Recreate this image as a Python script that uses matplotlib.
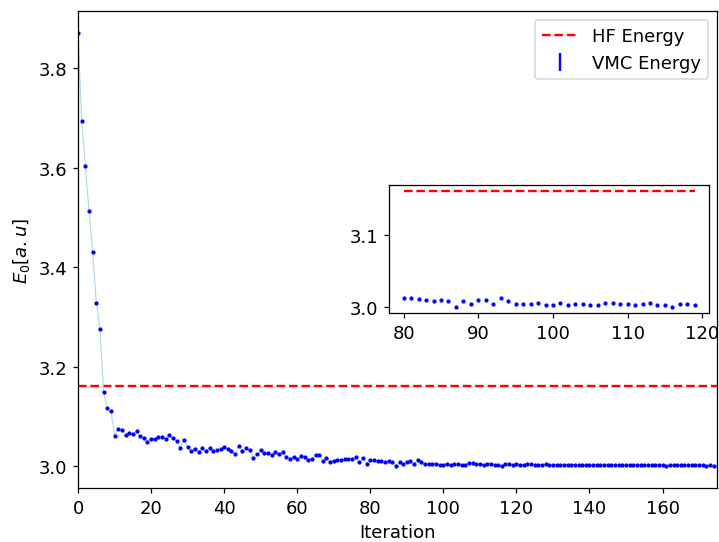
import numpy as np
import matplotlib.pyplot as plt

# VMC energy per iteration
energy = [
    3.871, 3.694, 3.604, 3.513, 3.430, 3.329, 3.275, 3.148, 3.117, 3.111,
    3.061, 3.074, 3.073, 3.062, 3.067, 3.064, 3.070, 3.060, 3.056, 3.049,
    3.055, 3.055, 3.059, 3.059, 3.055, 3.063, 3.056, 3.051, 3.036, 3.053,
    3.038, 3.030, 3.035, 3.028, 3.036, 3.031, 3.036, 3.031, 3.032, 3.034,
    3.038, 3.034, 3.031, 3.025, 3.040, 3.031, 3.036, 3.032, 3.017, 3.024,
    3.032, 3.026, 3.026, 3.023, 3.028, 3.024, 3.028, 3.019, 3.014, 3.019,
    3.014, 3.020, 3.019, 3.012, 3.015, 3.022, 3.023, 3.010, 3.016, 3.009,
    3.011, 3.012, 3.012, 3.014, 3.014, 3.014, 3.018, 3.008, 3.016, 3.004,
    3.0130, 3.0117, 3.0103, 3.0093, 3.0079, 3.0093, 3.0084, 3.0000, 3.0075, 3.0042,
    3.0089, 3.0093, 3.0037, 3.0130, 3.0075, 3.0037, 3.0037, 3.0037, 3.0051, 3.0028,
    3.0028, 3.0051, 3.0028, 3.0037, 3.0037, 3.0019, 3.0028, 3.0056, 3.0056, 3.0033,
    3.0042, 3.0028, 3.0033, 3.0051, 3.0019, 3.0024, 3.0000, 3.0037, 3.0042, 3.0028,
    3.0035, 3.0030, 3.0028, 3.0040, 3.0032, 3.0025, 3.0015, 3.0028, 3.0033, 3.0030,
    3.0022, 3.0030, 3.0018, 3.0025, 3.0028, 3.0020, 3.0030, 3.0022, 3.0018, 3.0025,
    3.0021, 3.0016, 3.0026, 3.0020, 3.0018, 3.0022, 3.0015, 3.0020, 3.0024, 3.0017,
    3.0020, 3.0013, 3.0020, 3.0022, 3.0016, 3.0019, 3.0012, 3.0018, 3.0021, 3.0015,
    3.0017, 3.0011, 3.0016, 3.0019, 3.0013, 3.0018, 3.0022, 3.0017, 3.0014, 3.0016,
    3.0012, 3.0015, 3.0010, 3.0014, 3.0011,
]
energy_err = [0.0006] * len(energy)
hf_energy = 3.162
inset_start, inset_stop = 80, 120
inset_yticks = [3.0, 3.1]

E = np.array(energy)
dE = np.array(energy_err)
it = np.arange(len(E))

plt.rcParams['font.size'] = 11.5

fig = plt.figure(figsize=(6.4, 4.83), dpi=112.4)
ax = fig.add_axes([0.1085, 0.0994, 0.8887, 0.8785])

ax.axhline(hf_energy, color='r', ls='--', lw=1.5, label='HF Energy')
ax.plot(it, E, color='lightblue', lw=0.7)
ax.plot(it, E, 'o', color='b', ms=1.7)
ax.errorbar(it, E, yerr=dE, fmt='none', ecolor='b', elinewidth=1.5,
            label='VMC Energy')
ax.set_xlim(0, len(E))
ax.set_xlabel('Iteration')
ax.set_ylabel(r'$E_0[a.u]$')
ax.legend(loc='upper right')

# zoomed inset
ins = fig.add_axes([0.541, 0.4217, 0.445, 0.2357])
sl = slice(inset_start, inset_stop)
ins.plot(it[sl], np.full(len(it[sl]), hf_energy), color='r', ls='--', lw=1.5)
ins.errorbar(it[sl], E[sl], yerr=dE[sl], fmt='o', color='b', ms=1.7,
             elinewidth=1)
ins.set_yticks(inset_yticks)

fig.savefig('out.png', dpi=112.4)
